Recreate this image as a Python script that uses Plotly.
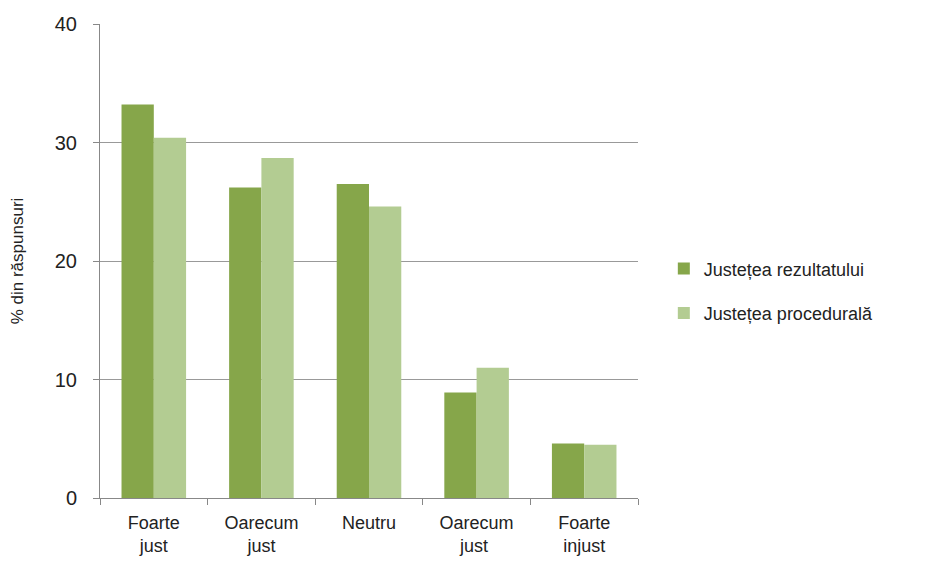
import plotly.graph_objects as go

categories = ["Foarte<br>just", "Oarecum<br>just", "Neutru", "Oarecum<br>just ", "Foarte<br>injust"]
rezultat = [33.2, 26.2, 26.5, 8.9, 4.6]
procedural = [30.4, 28.7, 24.6, 11.0, 4.5]
y_ticks = [0, 10, 20, 30, 40]

fig = go.Figure()
fig.add_bar(x=categories, y=rezultat, name="Justețea rezultatului", legendgroup="a",
            marker=dict(color="#86A64A", line=dict(width=0)))
fig.add_bar(x=categories, y=procedural, name="Justețea procedurală", legendgroup="b",
            marker=dict(color="#B3CC92", line=dict(width=0)))

fig.update_layout(
    width=942, height=568, barmode="group", bargap=0.4, bargroupgap=0,
    plot_bgcolor="white", paper_bgcolor="white",
    font=dict(family="Liberation Sans, Arial", color="#222"),
    margin=dict(l=92, r=312, t=16, b=78),
    legend=dict(x=1.048, y=0.437, yanchor="middle", font=dict(size=18), itemwidth=30,
                traceorder="grouped", tracegroupgap=18),
    xaxis=dict(showline=True, linecolor="#888", linewidth=1, ticks="outside", tickcolor="#888", ticklen=6,
               tickfont=dict(size=18), tickson="boundaries", ticklabelstandoff=8),
    yaxis=dict(range=[0, 40], tickvals=y_ticks, showgrid=True, gridcolor="#999", gridwidth=1,
               showline=True, linecolor="#888", ticks="outside", tickcolor="#888", ticklen=6,
               tickfont=dict(size=20), zeroline=False, automargin=False, ticklabelstandoff=12,
               title=dict(text="% din răspunsuri", font=dict(size=17), standoff=26)),
)
fig.write_html("out.html")
